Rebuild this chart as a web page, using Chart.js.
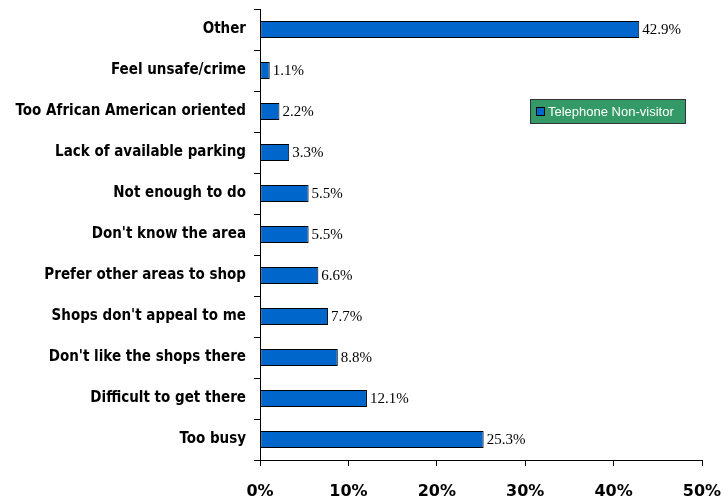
<!DOCTYPE html>
<html>
<head>
<meta charset="utf-8">
<script src="https://cdn.jsdelivr.net/npm/chart.js@4/dist/chart.umd.min.js"></script>
<style>
  html, body { margin: 0; padding: 0; background: #fff; }
  #wrap { width: 722px; height: 501px; position: relative; }
</style>
</head>
<body>
<div id="wrap"><canvas id="reasonsChart"></canvas></div>
<script>
// reasons for not visiting, top to bottom
const reasons = [
  "Other",
  "Feel unsafe/crime",
  "Too African American oriented",
  "Lack of available parking",
  "Not enough to do",
  "Don't know the area",
  "Prefer other areas to shop",
  "Shops don't appeal to me",
  "Don't like the shops there",
  "Difficult to get there",
  "Too busy"
];
const nonVisitorPct = [42.9, 1.1, 2.2, 3.3, 5.5, 5.5, 6.6, 7.7, 8.8, 12.1, 25.3];
const seriesName = "Telephone Non-visitor";
const xTicks = [0, 10, 20, 30, 40, 50];

const barBlue = "#0066CC";

// percentage text just past the end of each bar
const valueLabels = {
  id: "valueLabels",
  afterDatasetsDraw(chart) {
    const ctx = chart.ctx;
    const meta = chart.getDatasetMeta(0);
    ctx.save();
    ctx.font = "15px 'Liberation Serif', 'Times New Roman', serif";
    ctx.fillStyle = "#000";
    ctx.textAlign = "left";
    ctx.textBaseline = "middle";
    meta.data.forEach((bar, i) => {
      ctx.fillText(nonVisitorPct[i].toFixed(1) + "%", bar.x + 3, bar.y + 1);
    });
    ctx.restore();
  }
};

// boxed legend floating inside the plot
const boxLegend = {
  id: "boxLegend",
  afterDraw(chart) {
    const ctx = chart.ctx;
    const x = 530, y = 99, w = 156, h = 25;
    ctx.save();
    ctx.fillStyle = "#339966";
    ctx.fillRect(x, y, w, h);
    ctx.strokeStyle = "#333";
    ctx.lineWidth = 1;
    ctx.strokeRect(x + 0.5, y + 0.5, w - 1, h - 1);
    ctx.fillStyle = barBlue;
    ctx.fillRect(x + 6, y + 8, 9, 9);
    ctx.strokeStyle = "#000";
    ctx.strokeRect(x + 6.5, y + 8.5, 8, 8);
    ctx.fillStyle = "#fff";
    ctx.font = "13px 'Liberation Sans', Arial, sans-serif";
    ctx.textBaseline = "middle";
    ctx.fillText(chart.data.datasets[0].label, x + 18, y + h / 2 + 1);
    ctx.restore();
  }
};

new Chart(document.getElementById("reasonsChart"), {
  type: "bar",
  data: {
    labels: reasons,
    datasets: [{
      label: seriesName,
      data: nonVisitorPct,
      backgroundColor: barBlue,
      borderColor: "#000",
      borderWidth: 1,
      borderSkipped: false,
      categoryPercentage: 1,
      barPercentage: 0.41
    }]
  },
  options: {
    indexAxis: "y",
    responsive: true,
    maintainAspectRatio: false,
    animation: false,
    layout: { padding: { top: 9, right: 20, left: 0, bottom: 0 } },
    plugins: {
      legend: { display: false },
      tooltip: { enabled: false }
    },
    scales: {
      x: {
        min: 0,
        max: 50,
        afterBuildTicks(scale) {
          scale.ticks = xTicks.map(v => ({ value: v }));
        },
        afterFit(scale) {
          scale.height = 41;
          scale.paddingLeft = 0;
          scale.paddingRight = 0;
        },
        grid: {
          drawOnChartArea: false,
          drawTicks: true,
          tickLength: 6,
          color: "#000"
        },
        border: { color: "#000", width: 1 },
        ticks: {
          padding: 16,
          color: "#000",
          font: { family: "'DejaVu Sans', Arial, sans-serif", weight: "bold", size: 16 },
          callback: v => v + "%"
        }
      },
      y: {
        offset: true,
        afterFit(scale) {
          scale.width = 260;
          scale.paddingTop = 0;
          scale.paddingBottom = 0;
        },
        grid: {
          offset: true,
          drawOnChartArea: false,
          drawTicks: true,
          tickLength: 6,
          color: "#000"
        },
        border: { color: "#000", width: 1 },
        ticks: {
          padding: 8,
          color: "#000",
          font: { family: "'DejaVu Sans Condensed', 'DejaVu Sans', sans-serif", weight: "bold", size: 15 }
        }
      }
    }
  },
  plugins: [valueLabels, boxLegend]
});
</script>
</body>
</html>
